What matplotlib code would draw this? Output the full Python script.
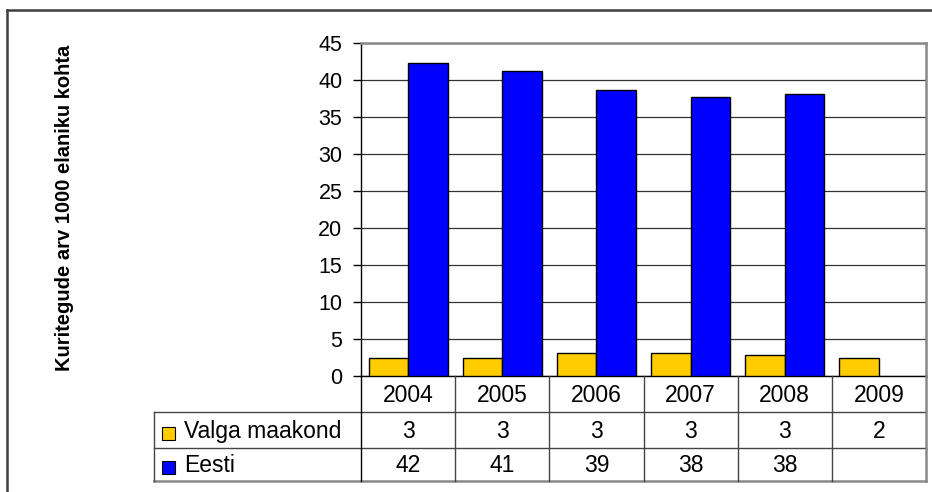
import numpy as np
import matplotlib
matplotlib.use('Agg')
import matplotlib.pyplot as plt
from matplotlib.transforms import blended_transform_factory
from matplotlib.lines import Line2D
from matplotlib.patches import Rectangle

plt.rcParams['font.family'] = ['Liberation Sans', 'DejaVu Sans']

years = ['2004', '2005', '2006', '2007', '2008', '2009']
valga = [2.5, 2.5, 3.1, 3.1, 2.9, 2.4]
eesti = [42.3, 41.2, 38.6, 37.7, 38.1, None]
series_names = ['Valga maakond', 'Eesti']
series_colors = ['#FFCC00', '#0000FF']
ylabel = 'Kuritegude arv 1000 elaniku kohta'

W, H = 932, 492
fig = plt.figure(figsize=(W / 100, H / 100), dpi=100)

def fx(px):
    return px / W

def fy(py):
    return 1 - py / H

# plot area in pixels
left, right, top, bottom = 361, 926, 43, 376
ax = fig.add_axes([fx(left), fy(bottom), fx(right - left), (bottom - top) / H])

x = np.arange(len(years))
w = 0.42
ax.bar(x - w / 2, valga, w, color=series_colors[0], edgecolor='black', linewidth=1, zorder=3)
ex = [i for i, v in enumerate(eesti) if v is not None]
ev = [v for v in eesti if v is not None]
ax.bar(np.array(ex) + w / 2, ev, w, color=series_colors[1], edgecolor='black', linewidth=1, zorder=3)

ax.set_xlim(-0.5, len(years) - 0.5)
ax.set_ylim(0, 45)
ax.set_yticks(range(0, 50, 5))
ax.set_xticks([])
ax.tick_params(axis='y', length=6, width=1, labelsize=15.5, pad=7.5, colors='black')
ax.yaxis.grid(True, color='#333333', linewidth=0.9)
ax.set_axisbelow(True)
for s in ['left', 'bottom']:
    ax.spines[s].set_color('black')
    ax.spines[s].set_linewidth(1)
for s in ['top', 'right']:
    ax.spines[s].set_color('#888888')
    ax.spines[s].set_linewidth(1.8)

fig.text(fx(65), fy(208), ylabel, rotation=90, ha='center', va='center',
         fontsize=14.5, fontweight='bold')

# data table under the axis
bt = blended_transform_factory(ax.transData, fig.transFigure)
ft = fig.transFigure
row_y = [376, 412, 448, 481]
tbl_left = 154

def hline(x0, x1, y, color='#444444', lw=1):
    fig.add_artist(Line2D([fx(x0), fx(x1)], [fy(y), fy(y)], color=color, lw=lw, transform=ft))

def vline(xp, y0, y1, color='#444444', lw=1):
    fig.add_artist(Line2D([fx(xp), fx(xp)], [fy(y0), fy(y1)], color=color, lw=lw, transform=ft))

hline(tbl_left, right, row_y[1])
hline(tbl_left, right, row_y[2])
hline(tbl_left, right, row_y[3], color='#888888', lw=1.8)
vline(tbl_left, row_y[1], row_y[3])
vline(left, row_y[0], row_y[3], color='black')
vline(right, row_y[0], row_y[3], color='#888888', lw=1.8)
for b in np.arange(0.5, len(years) - 0.5):
    fig.add_artist(Line2D([b, b], [fy(row_y[0]), fy(row_y[3])], color='#444444', lw=1, transform=bt))

for i, yr in enumerate(years):
    fig.text(i, fy((row_y[0] + row_y[1]) / 2 + 1), yr, ha='center', va='center',
             fontsize=16.5, transform=bt)

for r, (vals, name, col) in enumerate(zip([valga, eesti], series_names, series_colors)):
    yc = (row_y[r + 1] + row_y[r + 2]) / 2 + 1.5
    for i, v in enumerate(vals):
        if v is None:
            continue
        fig.text(i, fy(yc), str(int(v + 0.5)), ha='center', va='center',
                 fontsize=16.5, transform=bt)
    fig.add_artist(Rectangle((fx(162), fy(yc + 8)), fx(13), 13 / H, facecolor=col,
                             edgecolor='black', lw=0.8, transform=ft))
    fig.text(fx(184), fy(yc), name, ha='left', va='center', fontsize=16.5)

# outer chart frame
fig.add_artist(Line2D([fx(7), fx(7)], [fy(10), 0], color='#404040', lw=1.8, transform=ft))
fig.add_artist(Line2D([fx(7), 1], [fy(10), fy(10)], color='#404040', lw=1.8, transform=ft))

fig.savefig('out.png', dpi=100)
